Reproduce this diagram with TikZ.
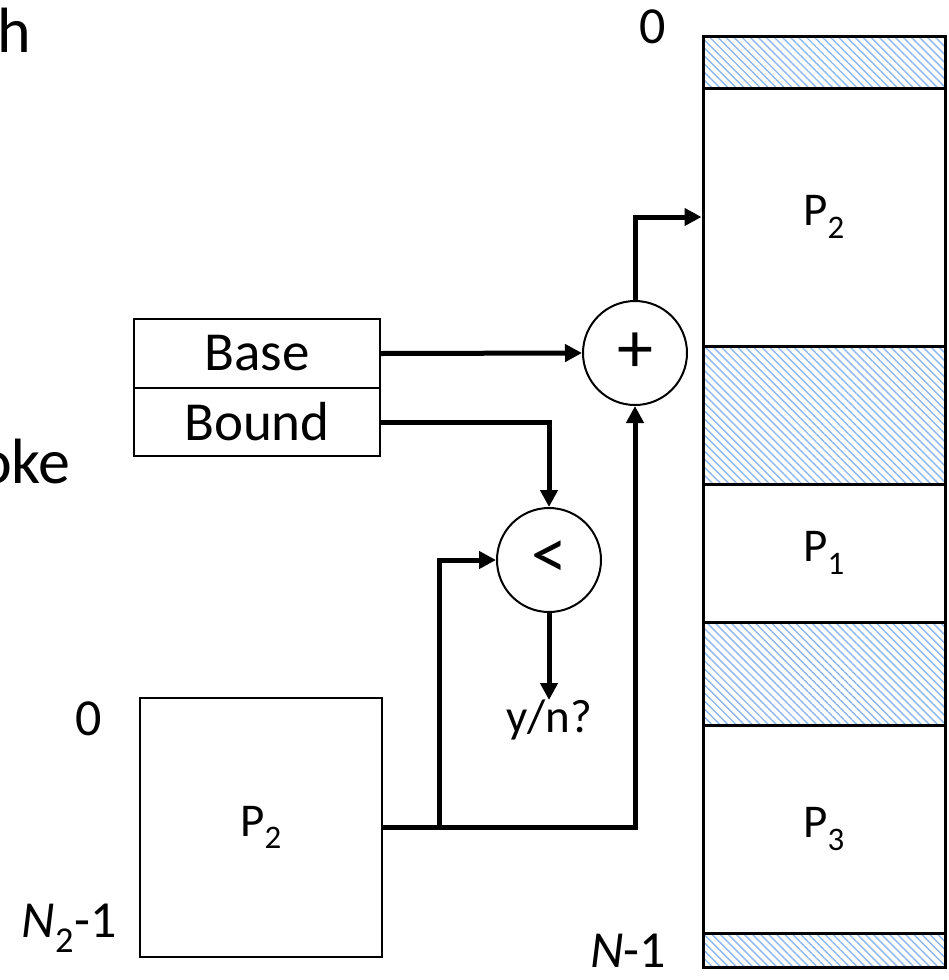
\documentclass[tikz,border=0pt]{standalone}
\usepackage{fontspec}
\setmainfont{Carlito}
\usetikzlibrary{arrows.meta,patterns.meta}
\definecolor{hatchblue}{RGB}{140,182,236}
\tikzset{
  fbig/.style={font=\fontsize{55}{60}\selectfont},
  fmid/.style={font=\fontsize{47}{50}\selectfont},
  flab/.style={font=\fontsize{52}{56}\selectfont},
  fop/.style={font=\fontsize{72}{76}\selectfont},
  regbox/.style={draw,line width=2pt,minimum width=246pt,inner sep=0pt,fbig},
  opcirc/.style={draw,circle,line width=2pt,minimum size=104pt,inner sep=0pt,fop},
  memseg/.style={draw,line width=3pt,minimum width=242pt,inner sep=0pt,fmid},
  hatched/.style={memseg,pattern={Lines[angle=-45,distance=5.7pt,line width=1.4pt]},pattern color=hatchblue},
  conn/.style={line width=5pt,-{Triangle[length=17pt,width=17pt]}}
}
\begin{document}
\begin{tikzpicture}[x=1pt,y=-1pt]
\clip (0,0) rectangle (948,980);
\useasboundingbox (0,0) rectangle (948,980);
% clipped fragments of text
\node[anchor=base west,inner sep=0pt,font=\fontsize{64}{70}\selectfont] (frag1) at (-3,52) {h};
\node[anchor=base west,inner sep=0pt,font=\fontsize{64}{70}\selectfont] (frag2) at (-22,483) {oke};
% memory column
\node[hatched,minimum height=52pt] (m0) at (824,62) {};
\node[memseg,minimum height=258pt] (mP2) at (824,217) {P\textsubscript{2}};
\node[hatched,minimum height=138pt] (m1) at (824,415) {};
\node[memseg,minimum height=138pt] (mP1) at (824,553) {P\textsubscript{1}};
\node[hatched,minimum height=103pt] (m2) at (824,673.5) {};
\node[memseg,minimum height=208pt] (mP3) at (824,829) {P\textsubscript{3}};
\node[hatched,minimum height=34pt] (m3) at (824,950) {};
\node[flab] (z0) at (653,27) {0};
\node[flab] (zN) at (628,951) {\textit{N}-1};
% registers
\node[regbox,minimum height=69pt] (base) at (257,353.5) {Base};
\node[regbox,minimum height=68pt] (bound) at (257,422) {Bound};
% operators
\node[opcirc] (plus) at (635,353) {+};
\node[opcirc] (less) at (549,560) {<};
\node[fmid,anchor=north,inner sep=0pt] (yn) at (549,700) {y/n?};
% small address space
\node[draw,line width=2pt,minimum width=242pt,minimum height=259pt,inner sep=0pt,fmid] (p2s) at (261,827.5) {P\textsubscript{2}};
\node[flab] (s0) at (89,719) {0};
\node[flab] (sN) at (69,928) {\textit{N}\textsubscript{2}-1};
% connectors
\coordinate (j) at (439,827.5);
\draw[conn] (base.east) -- (plus.west);
\draw[conn] (bound.east) -| (less.north);
\draw[conn] (p2s.east) -| (plus.south);
\draw[conn] (j) |- (less.west);
\draw[conn] (less.south) -- (yn.north);
\draw[conn] (plus.north) |- (mP2.west);
\end{tikzpicture}
\end{document}
